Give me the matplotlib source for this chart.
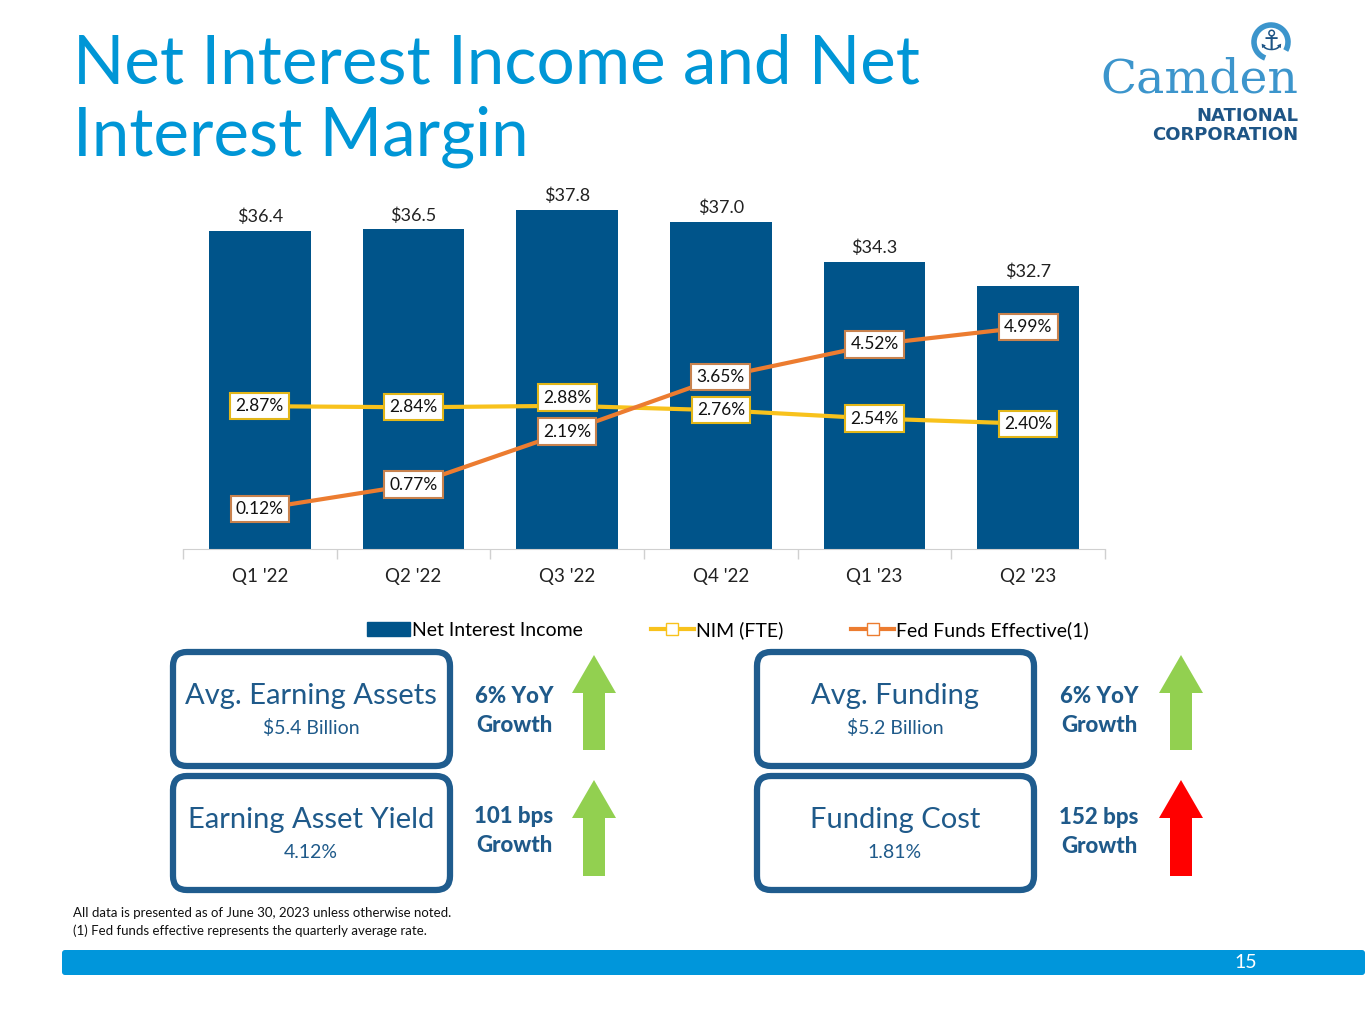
import numpy as np
import matplotlib.pyplot as plt
from matplotlib.patches import FancyBboxPatch, FancyArrow, Arc, Patch
from matplotlib.lines import Line2D

plt.rcParams['font.family'] = ['Lato', 'DejaVu Sans']

# data
quarters = ["Q1 '22", "Q2 '22", "Q3 '22", "Q4 '22", "Q1 '23", "Q2 '23"]
nii = [36.4, 36.5, 37.8, 37.0, 34.3, 32.7]
nim = [2.87, 2.84, 2.88, 2.76, 2.54, 2.40]
fed = [0.12, 0.77, 2.19, 3.65, 4.52, 4.99]

NAVY = '#00548A'
YELLOW = '#F8C21C'
ORANGE = '#EC7C30'
BLUE = '#0096D6'
TXT = '#1F5A8A'

W, H = 1365, 1024
fig = plt.figure(figsize=(W / 100, H / 100), dpi=100)

# chart area
ax = fig.add_axes([183 / W, 1 - 549 / H, (1105 - 183) / W, (549 - 199.4) / H])
x = np.arange(len(quarters))
ax.bar(x, nii, width=0.66, color=NAVY, zorder=2)
ax.set_xlim(-0.5, 5.5)
ax.set_ylim(15, 38.5)
for xi, v in zip(x, nii):
    ax.annotate(f'${v:.1f}', (xi, v), xytext=(0, 4), textcoords='offset points',
                ha='center', va='bottom', fontsize=13, color='#222222')
ax.set_yticks([])
for s in ['top', 'right', 'left']:
    ax.spines[s].set_visible(False)
ax.spines['bottom'].set_color('#D0D0D0')
ax.set_xticks(np.arange(-0.5, 6, 1.0), minor=False)
ax.set_xticklabels([])
ax.tick_params(axis='x', length=7, color='#D0D0D0', width=1)
ax.set_xticks(x, minor=True)
ax.set_xticklabels(quarters, minor=True, fontsize=13.5, color='#222222')
ax.tick_params(axis='x', which='minor', length=0, pad=14)

ax2 = ax.twinx()
ax2.set_ylim(-0.95, 8.4)
ax2.set_yticks([])
for s in ax2.spines.values():
    s.set_visible(False)
ax2.plot(x, nim, color=YELLOW, lw=3, zorder=3)
ax2.plot(x, fed, color=ORANGE, lw=3, zorder=3)
nim_off = [0, 0, 0.22, 0, 0, 0]
for xi, v, o in zip(x, nim, nim_off):
    ax2.text(xi, v + o, f'{v:.2f}%', ha='center', va='center', fontsize=12.5, color='#111111',
             bbox=dict(boxstyle='square,pad=0.3', fc='white', ec='#E2B619', lw=1.5), zorder=5)
for xi, v in zip(x, fed):
    ax2.text(xi, v, f'{v:.2f}%', ha='center', va='center', fontsize=12.5, color='#111111',
             bbox=dict(boxstyle='square,pad=0.3', fc='white', ec='#C8824E', lw=1.5), zorder=5)

handles = [Patch(color=NAVY),
           Line2D([], [], color=YELLOW, lw=3, marker='s', mfc='white', mec=YELLOW, ms=8),
           Line2D([], [], color=ORANGE, lw=3, marker='s', mfc='white', mec=ORANGE, ms=8)]
fig.legend(handles, ['Net Interest Income', 'NIM (FTE)', 'Fed Funds Effective(1)'],
           loc='center', bbox_to_anchor=(728 / W, 1 - 630 / H), ncol=3, frameon=False,
           fontsize=14, handlelength=2.2, handletextpad=0.1, columnspacing=3.5)

# overlay for slide elements
ov = fig.add_axes([0, 0, 1, 1], zorder=10)
ov.set_xlim(0, W)
ov.set_ylim(H, 0)
ov.axis('off')

ov.text(73, 83, 'Net Interest Income and Net', fontsize=48.5, color=BLUE, ha='left', va='baseline')
ov.text(73, 155, 'Interest Margin', fontsize=48.5, color=BLUE, ha='left', va='baseline')

# logo
ov.text(1298, 80, 'Camden', fontsize=34, family='DejaVu Serif', color='#3C95CC',
        ha='right', va='center')
ov.text(1298, 116, 'NATIONAL', fontsize=13, fontweight='bold', family='DejaVu Sans',
        color='#1E5586', ha='right', va='center')
ov.text(1298, 135, 'CORPORATION', fontsize=13, fontweight='bold', family='DejaVu Sans',
        color='#1E5586', ha='right', va='center')
ov.add_patch(Arc((1271, 42), 34, 34, theta1=110, theta2=390, ec='#3C95CC', lw=4, fill=False,
                 zorder=11))
ov.text(1271, 42, '\u2693', fontsize=20, family='DejaVu Sans', color='#1E5586',
        ha='center', va='center', zorder=12)

# info boxes
boxes = [(173, 652, 'Avg. Earning Assets', '$5.4 Billion'),
         (173, 776, 'Earning Asset Yield', '4.12%'),
         (757, 652, 'Avg. Funding', '$5.2 Billion'),
         (757, 776, 'Funding Cost', '1.81%')]
for bx, by, t1, t2 in boxes:
    ov.add_patch(FancyBboxPatch((bx + 14, by + 14), 277 - 28, 114 - 28,
                                boxstyle='round,pad=14', fc='white', ec='#1F5C8E', lw=4.5))
    ov.text(bx + 138, by + 44, t1, fontsize=21, color=TXT, ha='center', va='center')
    ov.text(bx + 138, by + 76, t2, fontsize=14, color=TXT, ha='center', va='center')

growth = [(514, 711, '6% YoY\nGrowth'), (514, 831, '101 bps\nGrowth'),
          (1099, 711, '6% YoY\nGrowth'), (1099, 832, '152 bps\nGrowth')]
for gx, gy, t in growth:
    ov.text(gx, gy, t, fontsize=16, fontweight='black', color='#1F5A8A', ha='center',
            va='center', linespacing=1.45)

arrows = [(594, 655, 750, '#92D050'), (594, 780, 876, '#92D050'),
          (1181, 655, 750, '#92D050'), (1181, 780, 876, '#FF0000')]
for axx, top, bot, c in arrows:
    ov.add_patch(FancyArrow(axx, bot, 0, top - bot, width=22, head_width=44, head_length=38,
                            length_includes_head=True, fc=c, ec='none'))

# footer
ov.text(73, 913, 'All data is presented as of June 30, 2023 unless otherwise noted.',
        fontsize=9.5, color='#111111', ha='left', va='center')
ov.text(73, 931, '(1) Fed funds effective represents the quarterly average rate.',
        fontsize=9.5, color='#111111', ha='left', va='center')
ov.add_patch(FancyBboxPatch((62, 950), W - 62, 25, boxstyle='round,pad=0,rounding_size=3',
                            fc='#0096DB', ec='none'))
ov.text(1246, 963, '15', fontsize=14, color='white', ha='center', va='center')

fig.savefig('out.png', dpi=100, facecolor='white')
